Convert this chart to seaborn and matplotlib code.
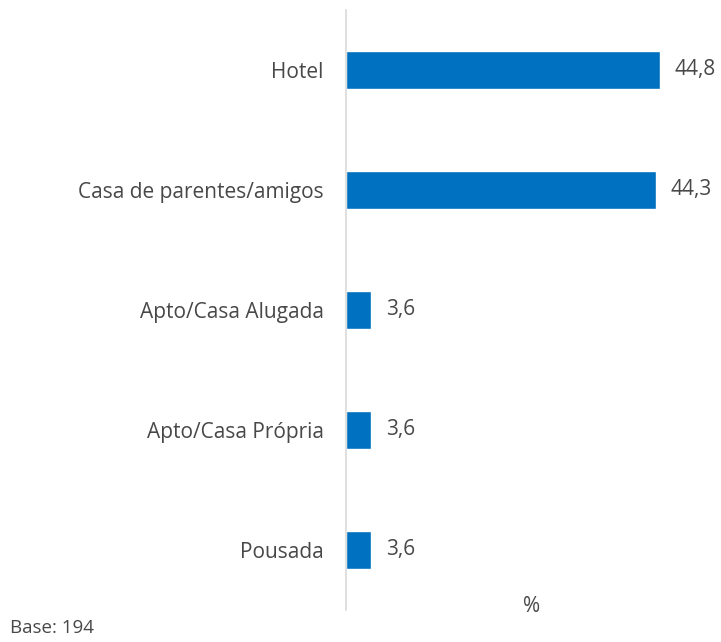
import pandas as pd
import seaborn as sns
import matplotlib.pyplot as plt

# Dados
categorias = ["Hotel", "Casa de parentes/amigos", "Apto/Casa Alugada",
              "Apto/Casa Própria", "Pousada"]
valores = [44.8, 44.3, 3.6, 3.6, 3.6]
rotulos = ["44,8", "44,3", "3,6", "3,6", "3,6"]

df = pd.DataFrame({"categoria": categorias, "valor": valores})

sns.set_style("white")
plt.rcParams['font.family'] = ['Open Sans', 'DejaVu Sans']

fig = plt.figure(figsize=(7.21, 6.42), dpi=100)
ax = fig.add_axes([346 / 721, 1 - 610 / 642, 360 / 721, 600 / 642])

sns.barplot(data=df, x="valor", y="categoria", color="#0070C0",
            saturation=1, width=0.32, ax=ax)

ax.set_xlim(0, 360 / 7.0)
ax.set_ylim(4.5, -0.5)

for i, r in enumerate(rotulos):
    ax.text(valores[i] + 2.1, i, r, va="center", ha="left",
            fontsize=15, color="#484848")

ax.set_xlabel("")
ax.set_ylabel("")
ax.set_xticks([])
ax.tick_params(axis="y", length=0, pad=16, labelsize=15, labelcolor="#484848")

for s in ["top", "right", "bottom"]:
    ax.spines[s].set_visible(False)
ax.spines["left"].set_color("#D9D9D9")
ax.spines["left"].set_linewidth(1.2)

fig.text(532 / 721, 1 - 607 / 642, "%", ha="center", va="center",
         fontsize=15, color="#484848")
fig.text(10 / 721, 1 - 628 / 642, "Base: 194", ha="left", va="center",
         fontsize=13.5, color="#484848")

fig.savefig("out.png", dpi=100)
